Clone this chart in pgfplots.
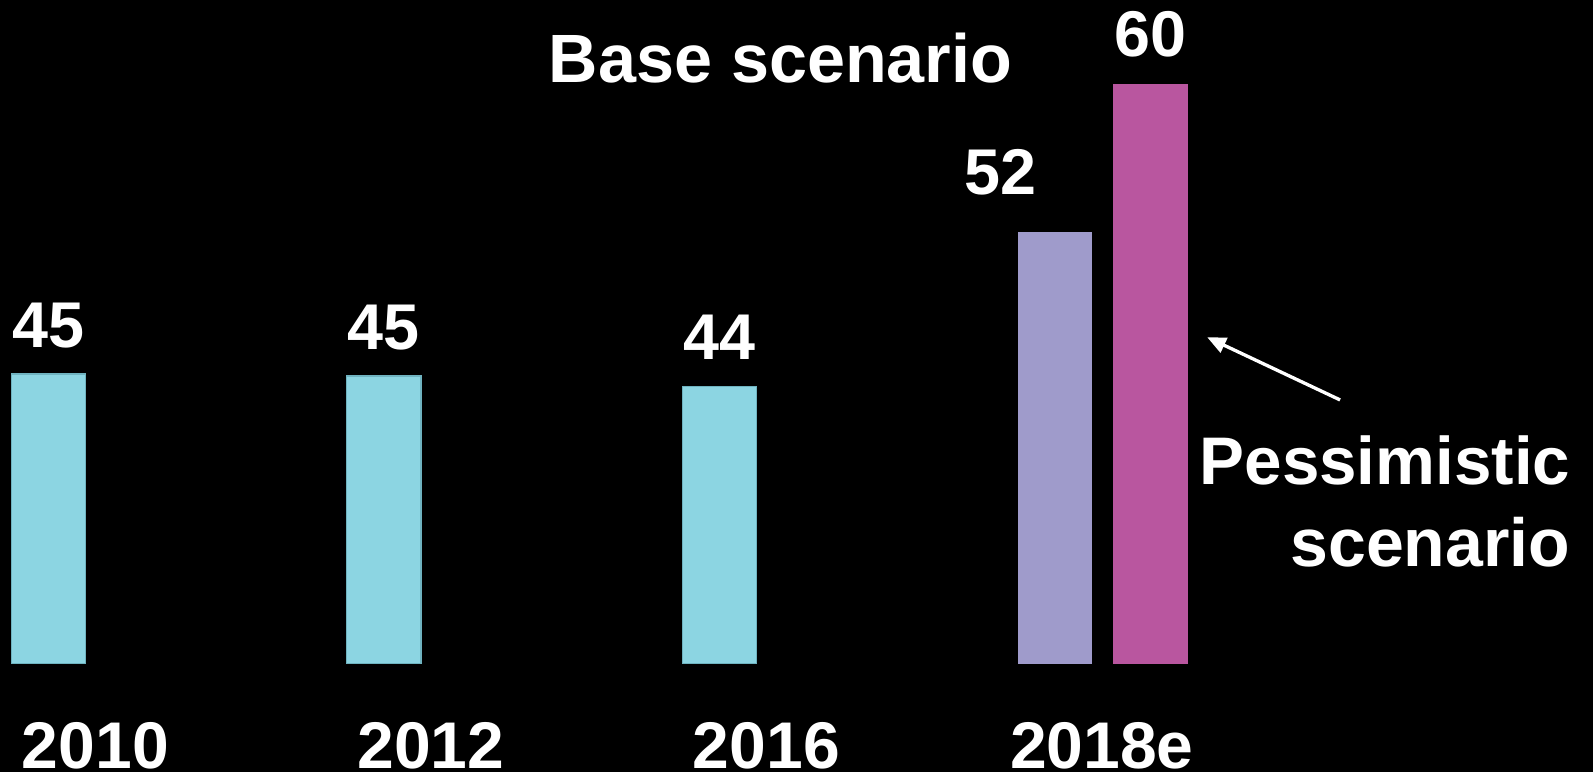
\documentclass[border=0pt]{standalone}
\usepackage{fontspec}
\setmainfont{Liberation Sans}
\usepackage{pgfplots}
\pgfplotsset{compat=1.18}
\usetikzlibrary{backgrounds,arrows.meta}

\definecolor{teal1}{HTML}{8CD5E2}
\definecolor{tealedge}{HTML}{6FB3C0}
\definecolor{lav}{HTML}{9F9BCB}
\definecolor{mag}{HTML}{B9569F}

\begin{document}
\begin{tikzpicture}
  \begin{axis}[
      name=ax,
      scale only axis,
      width=477.9pt, height=199.2pt,
      xmin=-0.1443, xmax=4.6038,
      ymin=30, ymax=64.35,
      axis line style={draw=none},
      tick style={draw=none},
      ytick=\empty,
      xtick={0.14,1.14,2.14,3.14},
      xticklabels={2010,2012,2016,2018e},
      xticklabel style={anchor=base, inner sep=0pt, yshift=-27.2pt, text=white,
        font=\fontsize{19.8}{24}\selectfont\bfseries},
      ybar, bar width=0.222,
      point meta=explicit symbolic,
      nodes near coords,
      every node near coord/.append style={anchor=base, text=white,
        font=\fontsize{19.4}{24}\selectfont\bfseries},
    ]
    % historic values
    \addplot[bar shift=0pt, fill=teal1, draw=tealedge, line width=0.4pt,
      every node near coord/.append style={yshift=8pt}]
      coordinates {(0,45) [45] (1,44.9) [45] (2,44.35) [44]};
    % 2018e base scenario
    \addplot[bar shift=0pt, fill=lav, draw=none,
      every node near coord/.append style={yshift=11.1pt, xshift=-16.4pt}]
      coordinates {(3,52.35) [52]};
    % 2018e pessimistic scenario
    \addplot[bar shift=0pt, fill=mag, draw=none,
      every node near coord/.append style={yshift=8.3pt}]
      coordinates {(3.285,60) [60]};

    \node[anchor=base, inner sep=0pt, text=white, font=\fontsize{20.5}{24}\selectfont\bfseries]
      at (axis cs:2.182,60.06) {Base scenario};
    \node[anchor=base east, inner sep=0pt, text=white, font=\fontsize{20.2}{24}\selectfont\bfseries]
      at (axis cs:4.538,39.3) {Pessimistic};
    \node[anchor=base east, inner sep=0pt, text=white, font=\fontsize{20.4}{24}\selectfont\bfseries]
      at (axis cs:4.538,35.02) {scenario};
    \draw[white, line width=1pt, -{Triangle[length=5.6pt,width=4.8pt]}]
      (axis cs:3.850,43.66) -- (axis cs:3.454,46.90);
  \end{axis}
  \pgfresetboundingbox
  \path[use as bounding box] (ax.south west) ++(0,-32.4pt) rectangle (ax.north east);
  \begin{scope}[on background layer]
    \fill[black] (ax.south west) ++(0,-32.4pt) rectangle (ax.north east);
  \end{scope}
\end{tikzpicture}
\end{document}
